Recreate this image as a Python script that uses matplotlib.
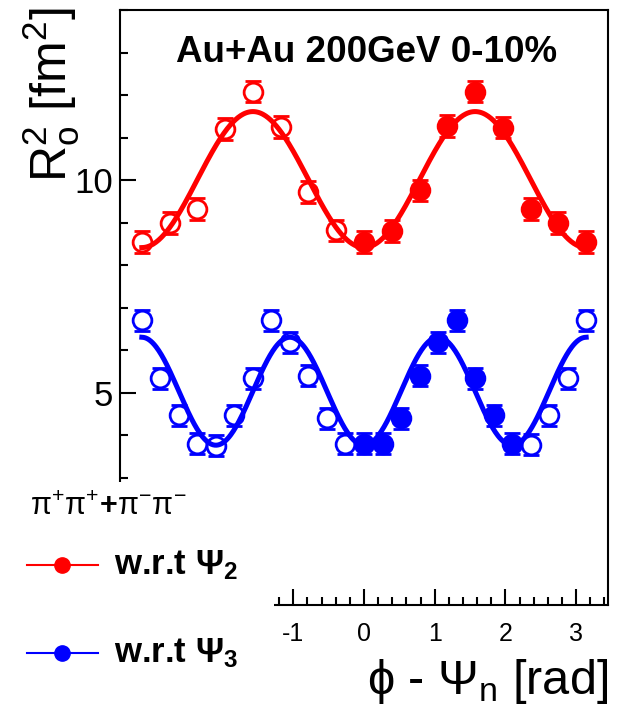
import numpy as np
import matplotlib
matplotlib.use('Agg')
import matplotlib.pyplot as plt
from matplotlib.patches import Rectangle
from matplotlib.lines import Line2D
from matplotlib.ticker import MultipleLocator

plt.rcParams['font.family'] = ['Liberation Sans', 'DejaVu Sans']
plt.rcParams['mathtext.fontset'] = 'custom'
plt.rcParams['mathtext.rm'] = 'Liberation Sans'
plt.rcParams['mathtext.it'] = 'Liberation Sans:italic'
plt.rcParams['mathtext.bf'] = 'Liberation Sans:bold'
plt.rcParams['mathtext.default'] = 'regular'
plt.rcParams['axes.unicode_minus'] = False

# R_o^2 vs phi - Psi_2 (red)
red_phi_open = [-3.142, -2.749, -2.356, -1.963, -1.571, -1.178, -0.785, -0.393]
red_r2_open = [8.54, 8.99, 9.32, 11.20, 12.08, 11.25, 9.72, 8.82]
red_phi_filled = [0.0, 0.393, 0.785, 1.178, 1.571, 1.963, 2.356, 2.749, 3.142]
red_r2_filled = [8.54, 8.80, 9.76, 11.27, 12.08, 11.23, 9.32, 8.99, 8.54]
red_fit = [10.01, 1.60]  # mean, 2nd-order amplitude

# R_o^2 vs phi - Psi_3 (blue)
blue_phi_open = [-3.142, -2.880, -2.618, -2.356, -2.094, -1.833, -1.571, -1.309,
                 -1.047, -0.785, -0.524, -0.262, 2.356, 2.618, 2.880, 3.142]
blue_r2_open = [6.70, 5.33, 4.46, 3.80, 3.75, 4.46, 5.33, 6.70,
                6.18, 5.40, 4.39, 3.80, 3.77, 4.46, 5.33, 6.70]
blue_phi_filled = [0.0, 0.262, 0.524, 0.785, 1.047, 1.309, 1.571, 1.833, 2.094]
blue_r2_filled = [3.80, 3.80, 4.39, 5.40, 6.18, 6.70, 5.33, 4.46, 3.80]
blue_fit = [5.03, 1.27]  # mean, 3rd-order amplitude

r2_err = 0.25

W, H = 619, 711
def fx(px):
    return px / W
def fy(py):
    return 1 - py / H

fig = plt.figure(figsize=(W / 100, H / 100), dpi=100)
ax = fig.add_axes([fx(120), fy(605), (608 - 120) / W, (605 - 10) / H])

red = '#ff0000'
blue = '#0000ff'
ms = 13.5

for phi, r2, fill, col in [(red_phi_open, red_r2_open, 'white', red),
                           (red_phi_filled, red_r2_filled, red, red),
                           (blue_phi_open, blue_r2_open, 'white', blue),
                           (blue_phi_filled, blue_r2_filled, blue, blue)]:
    ax.errorbar(phi, r2, yerr=r2_err, fmt='o', color=col, mfc=fill, mec=col,
                ms=ms, mew=2, elinewidth=1.8, capsize=6, capthick=1.8, zorder=3)

xs = np.linspace(-np.pi, np.pi, 500)
ax.plot(xs, red_fit[0] - red_fit[1] * np.cos(2 * xs), color=red, lw=3.6, zorder=4)
ax.plot(xs, blue_fit[0] - blue_fit[1] * np.cos(3 * xs), color=blue, lw=3.6, zorder=4)

ax.set_xlim(-3.45, 3.45)
ax.set_ylim(0, 14)
ax.set_xticks([-1, 0, 1, 2, 3])
ax.xaxis.set_minor_locator(MultipleLocator(0.2))
ax.set_yticks([5, 10])
ax.yaxis.set_minor_locator(MultipleLocator(1))
ax.tick_params(which='both', direction='in', top=False, right=False, width=1.5)
ax.tick_params(which='major', length=11.5)
ax.tick_params(which='minor', length=6)
ax.tick_params(axis='y', labelsize=25, pad=5)
ax.tick_params(axis='x', labelsize=18, pad=12)
for s in ax.spines.values():
    s.set_linewidth(1.5)

# white box hiding the lower-left corner (legend area)
x_cut = ax.transAxes.inverted().transform(ax.transData.transform((-1.27, 0)))[0]
y_cut = ax.transAxes.inverted().transform(ax.transData.transform((0, 2.9)))[1]
ax.add_patch(Rectangle((-0.4, -0.3), x_cut + 0.4, y_cut + 0.3, transform=ax.transAxes,
                       facecolor='white', edgecolor='none', clip_on=False, zorder=10))

fig.text(fx(367), fy(62), 'Au+Au 200GeV 0-10%', fontsize=26.5, fontweight='bold',
         ha='center', va='baseline')
fig.text(fx(82), fy(8), r'$R_{o}^{2}$ [fm$^{2}$]', fontsize=36, rotation=90,
         ha='right', va='top')
fig.text(fx(608), fy(694), r'$\phi$ - $\Psi_{n}$ [rad]', fontsize=35,
         ha='right', va='baseline')

# legend
fig.text(fx(30), fy(515), r'$\pi^{+}\pi^{+}\mathbf{+}\pi^{-}\pi^{-}$', fontsize=22,
         ha='left', va='baseline')
for py, col, lab in [(565, red, r'w.r.t $\Psi_{2}$'), (653, blue, r'w.r.t $\Psi_{3}$')]:
    fig.add_artist(Line2D([fx(27), fx(98)], [fy(py), fy(py)], color=col, lw=1.5))
    fig.add_artist(Line2D([fx(62)], [fy(py)], marker='o', color=col, ms=11))
    fig.text(fx(114), fy(py + 9), lab, fontsize=25, fontweight='bold',
             ha='left', va='baseline')

fig.savefig('out.png', dpi=100)
